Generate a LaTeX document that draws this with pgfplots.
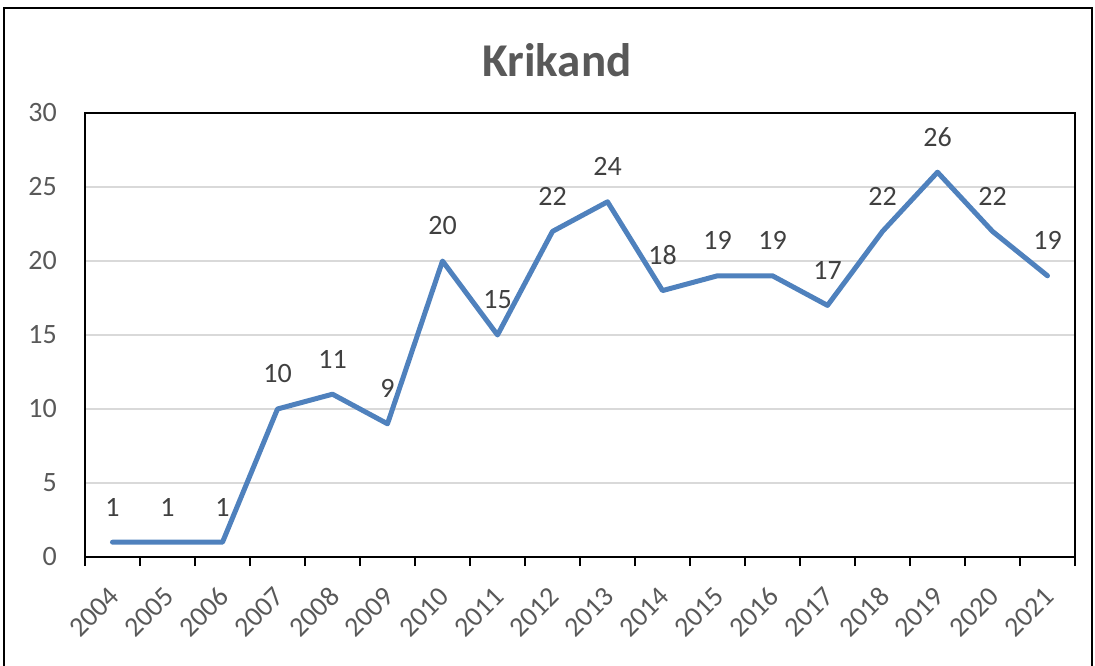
\documentclass[border=0pt]{standalone}
\usepackage{fontspec}
\setmainfont{Carlito}
\usepackage{pgfplots}
\pgfplotsset{compat=1.18}
\definecolor{linecol}{RGB}{79,129,189}
\definecolor{txtcol}{RGB}{89,89,89}
\definecolor{lblcol}{RGB}{64,64,64}
\definecolor{gridcol}{RGB}{217,217,217}

\begin{document}
\begin{tikzpicture}[x=1pt,y=1pt]
\useasboundingbox (-85,-109) rectangle (1010,557);
% chart area frame (bottom edge falls outside the picture)
\draw[black, line width=1.2pt] (-81,-120) -- (-81,549) -- (1007,549) -- (1007,-120);
\node[font=\fontsize{47}{52}\selectfont\bfseries, text=txtcol] at (472,497) {Krikand};
\begin{axis}[
  at={(0,0)}, anchor=south west,
  width=990pt, height=444pt, scale only axis,
  xmin=-0.5, xmax=17.5, ymin=0, ymax=30,
  xtick={0,...,17},
  xticklabels={2004,2005,2006,2007,2008,2009,2010,2011,2012,2013,2014,2015,2016,2017,2018,2019,2020,2021},
  minor xtick={-0.5,0.5,...,17.5},
  ytick={0,5,...,30},
  xtick pos=bottom, ytick pos=left,
  major tick length=0pt,
  minor tick length=9pt,
  tick align=outside,
  minor x tick style={black, line width=1.5pt},
  ymajorgrids, grid style={gridcol, line width=1.5pt},
  axis line style={black, line width=1.6pt},
  /pgf/number format/assume math mode=true,
  ticklabel style={font=\fontsize{28}{32}\selectfont, text=txtcol},
  xticklabel style={xshift=-5pt, yshift=-28pt, rotate=45, anchor=north east, inner sep=0pt},
  yticklabel style={anchor=east, inner sep=0pt, xshift=-28pt},
  nodes near coords,
  every node near coord/.append style={font=\fontsize{28}{32}\selectfont, text=lblcol,
    anchor=base, inner sep=0pt, yshift=26pt},
  clip=false,
]
\addplot[color=linecol, line width=5pt, line join=round, line cap=round]
  coordinates {(0,1)(1,1)(2,1)(3,10)(4,11)(5,9)(6,20)(7,15)(8,22)(9,24)
               (10,18)(11,19)(12,19)(13,17)(14,22)(15,26)(16,22)(17,19)};
\end{axis}
\end{tikzpicture}
\end{document}
